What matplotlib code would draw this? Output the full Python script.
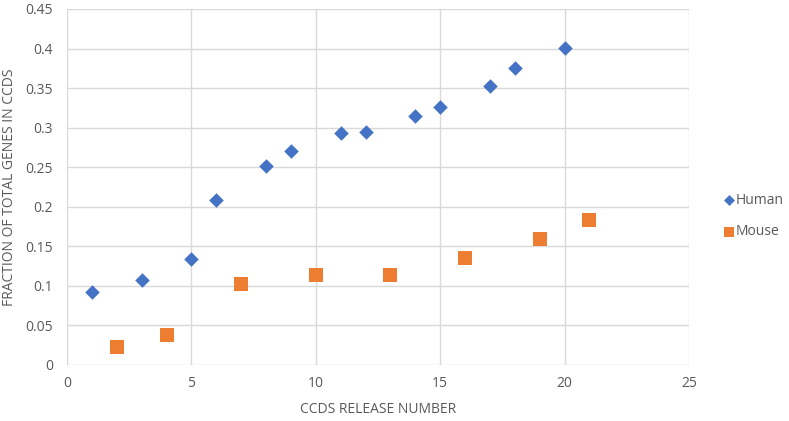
import matplotlib
matplotlib.use('Agg')
import matplotlib.pyplot as plt

human_x = [1, 3, 5, 6, 8, 9, 11, 12, 14, 15, 17, 18, 20]
human_y = [0.092, 0.107, 0.134, 0.209, 0.251, 0.271, 0.293, 0.295, 0.315, 0.326, 0.353, 0.375, 0.401]
mouse_x = [2, 4, 7, 10, 13, 16, 19, 21]
mouse_y = [0.023, 0.038, 0.102, 0.114, 0.114, 0.135, 0.159, 0.183]

x_ticks = [0, 5, 10, 15, 20, 25]
y_ticks = [0, 0.05, 0.1, 0.15, 0.2, 0.25, 0.3, 0.35, 0.4, 0.45]
y_labels = ['0', '0.05', '0.1', '0.15', '0.2', '0.25', '0.3', '0.35', '0.4', '0.45']

plt.rcParams['font.family'] = ['Open Sans', 'DejaVu Sans']
text_col = '#595959'
grid_col = '#d9d9d9'

fig = plt.figure(figsize=(7.89, 4.21), dpi=100)
ax = fig.add_axes([67 / 789, 1 - 365 / 421, 622 / 789, 356 / 421])

ax.scatter(human_x, human_y, marker='D', s=55, color='#4472C4', label='Human', zorder=3, linewidths=0)
ax.scatter(mouse_x, mouse_y, marker='s', s=110, color='#ED7D31', label='Mouse', zorder=3, linewidths=0)

ax.set_xlim(0, 25)
ax.set_ylim(0, 0.45)
ax.set_xticks(x_ticks)
ax.set_yticks(y_ticks)
ax.set_yticklabels(y_labels)
ax.grid(True, color=grid_col, linewidth=1)
ax.set_axisbelow(True)
for s in ax.spines.values():
    s.set_visible(False)
ax.tick_params(length=0, labelsize=10, colors=text_col, pad=8)
ax.tick_params(axis='y', pad=10)

ax.set_xlabel('CCDS RELEASE NUMBER', fontsize=10, color=text_col, labelpad=8)
ax.set_ylabel('FRACTION OF TOTAL GENES IN CCDS', fontsize=10, color=text_col, labelpad=6)

leg = fig.legend(loc='center left', bbox_to_anchor=(722 / 789, 1 - 216 / 421), frameon=False,
                 fontsize=10, labelcolor=text_col, handletextpad=0.0, labelspacing=1.2,
                 handlelength=1.0, markerscale=0.75, borderpad=0, borderaxespad=0)

fig.savefig('out.png', dpi=100)
